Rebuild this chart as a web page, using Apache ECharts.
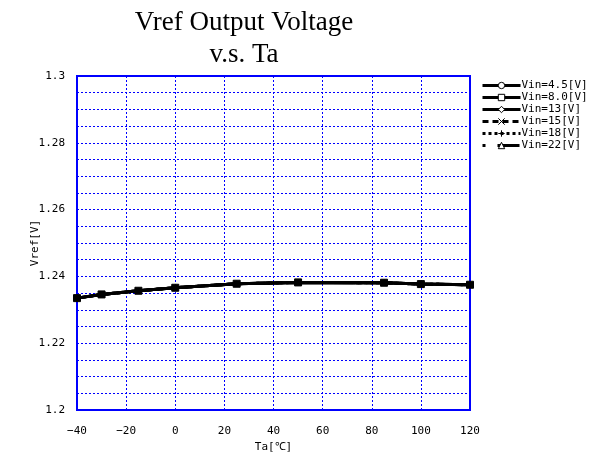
<!DOCTYPE html>
<html>
<head>
<meta charset="utf-8">
<script src="https://cdn.jsdelivr.net/npm/echarts@6/dist/echarts.min.js"></script>
<style>
  html, body { margin: 0; padding: 0; background: #fff; }
  #chart { width: 600px; height: 463px; }
</style>
</head>
<body>
<div id="chart"></div>
<script>
// Ambient temperature points [°C]
const temps = [-40, -30, -15, 0, 25, 50, 85, 100, 120];

// Vref [V] for each input voltage
const vin45 = [1.2335, 1.2346, 1.2357, 1.2366, 1.2378, 1.2382, 1.2381, 1.2377, 1.2375];
const vin80 = [1.2335, 1.2346, 1.2357, 1.2366, 1.2378, 1.2382, 1.2381, 1.2377, 1.2375];
const vin13 = [1.2335, 1.2346, 1.2357, 1.2366, 1.2378, 1.2382, 1.2381, 1.2377, 1.2375];
const vin15 = [1.2335, 1.2346, 1.2357, 1.2366, 1.2378, 1.2382, 1.2381, 1.2377, 1.2375];
const vin18 = [1.2335, 1.2346, 1.2357, 1.2366, 1.2378, 1.2382, 1.2381, 1.2377, 1.2375];
const vin22 = [1.2335, 1.2346, 1.2357, 1.2366, 1.2378, 1.2382, 1.2381, 1.2377, 1.2375];

const seriesNames = ['Vin=4.5[V]', 'Vin=8.0[V]', 'Vin=13[V]', 'Vin=15[V]', 'Vin=18[V]', 'Vin=22[V]'];

const X_SYMBOL = 'path://M0,0L10,10M10,0L0,10';
const PLUS_SYMBOL = 'path://M5,0L5,10M0,5L10,5';

const MONO = '"DejaVu Sans Mono", "Liberation Mono", monospace';
const BLUE = '#0000ff';

function pairs(vals) {
  return temps.map((t, i) => [t, vals[i]]);
}

function makeSeries(name, vals, symbol, size, dash, z) {
  return {
    name: name,
    type: 'line',
    data: pairs(vals),
    symbol: symbol,
    symbolSize: size,
    z: z,
    itemStyle: { color: '#000', borderColor: '#000', borderWidth: 1 },
    lineStyle: { color: '#000', width: 3, type: dash },
    emphasis: { disabled: true },
    animation: false
  };
}

const chart = echarts.init(document.getElementById('chart'), null, { renderer: 'canvas' });

chart.setOption({
  backgroundColor: '#fff',
  animation: false,
  title: {
    text: 'Vref Output Voltage\nv.s. Ta',
    left: 239,
    top: 2,
    textAlign: 'center',
    textStyle: {
      fontFamily: '"Liberation Serif", "DejaVu Serif", serif',
      fontSize: 27,
      fontWeight: 'normal',
      color: '#000',
      lineHeight: 32
    }
  },
  legend: {
    data: seriesNames,
    orient: 'vertical',
    left: 476,
    top: 75,
    itemWidth: 38,
    itemHeight: 8,
    itemGap: 1,
    selectedMode: false,
    textStyle: { fontFamily: MONO, fontSize: 11, color: '#000', padding: [0, 0, 0, -4] },
    itemStyle: { color: '#fff', borderColor: '#000', borderWidth: 1 },
    lineStyle: { width: 3 }
  },
  grid: {
    left: 77,
    right: 130,
    top: 76,
    bottom: 53,
    show: true,
    borderColor: BLUE,
    borderWidth: 2,
    containLabel: false
  },
  xAxis: {
    type: 'value',
    min: -40,
    max: 120,
    interval: 20,
    name: 'Ta[\u2103]',
    nameLocation: 'middle',
    nameGap: 32,
    nameMoveOverlap: false,
    nameTextStyle: { fontFamily: MONO, fontSize: 11, color: '#000' },
    axisLine: { show: false },
    axisTick: { show: false },
    axisLabel: {
      fontFamily: MONO,
      fontSize: 11,
      color: '#000',
      margin: 16,
      formatter: v => String(v).replace('-', '\u2212')
    },
    splitLine: { show: true, lineStyle: { color: BLUE, type: [2, 2], width: 1 } }
  },
  yAxis: {
    type: 'value',
    min: 1.2,
    max: 1.3,
    interval: 0.02,
    name: 'Vref[V]',
    nameLocation: 'middle',
    nameGap: 36,
    nameMoveOverlap: false,
    nameTextStyle: { fontFamily: MONO, fontSize: 11, color: '#000' },
    axisLine: { show: false },
    axisTick: { show: false },
    minorTick: { show: false, splitNumber: 4 },
    minorSplitLine: { show: true, lineStyle: { color: BLUE, type: [2, 2], width: 1 } },
    axisLabel: {
      fontFamily: MONO,
      fontSize: 11,
      color: '#000',
      margin: 12,
      formatter: v => String(parseFloat(v.toFixed(3)))
    },
    splitLine: { show: true, lineStyle: { color: BLUE, type: [2, 2], width: 1 } }
  },
  series: [
    makeSeries(seriesNames[0], vin45, 'circle', 5, 'solid', 2),
    makeSeries(seriesNames[1], vin80, 'rect', 7, 'solid', 8),
    makeSeries(seriesNames[2], vin13, 'diamond', 5, 'solid', 3),
    makeSeries(seriesNames[3], vin15, X_SYMBOL, 5, [6, 4], 4),
    makeSeries(seriesNames[4], vin18, PLUS_SYMBOL, 5, [3, 3], 5),
    makeSeries(seriesNames[5], vin22, 'triangle', 5, [3, 12, 22, 3], 6)
  ]
});
</script>
</body>
</html>
